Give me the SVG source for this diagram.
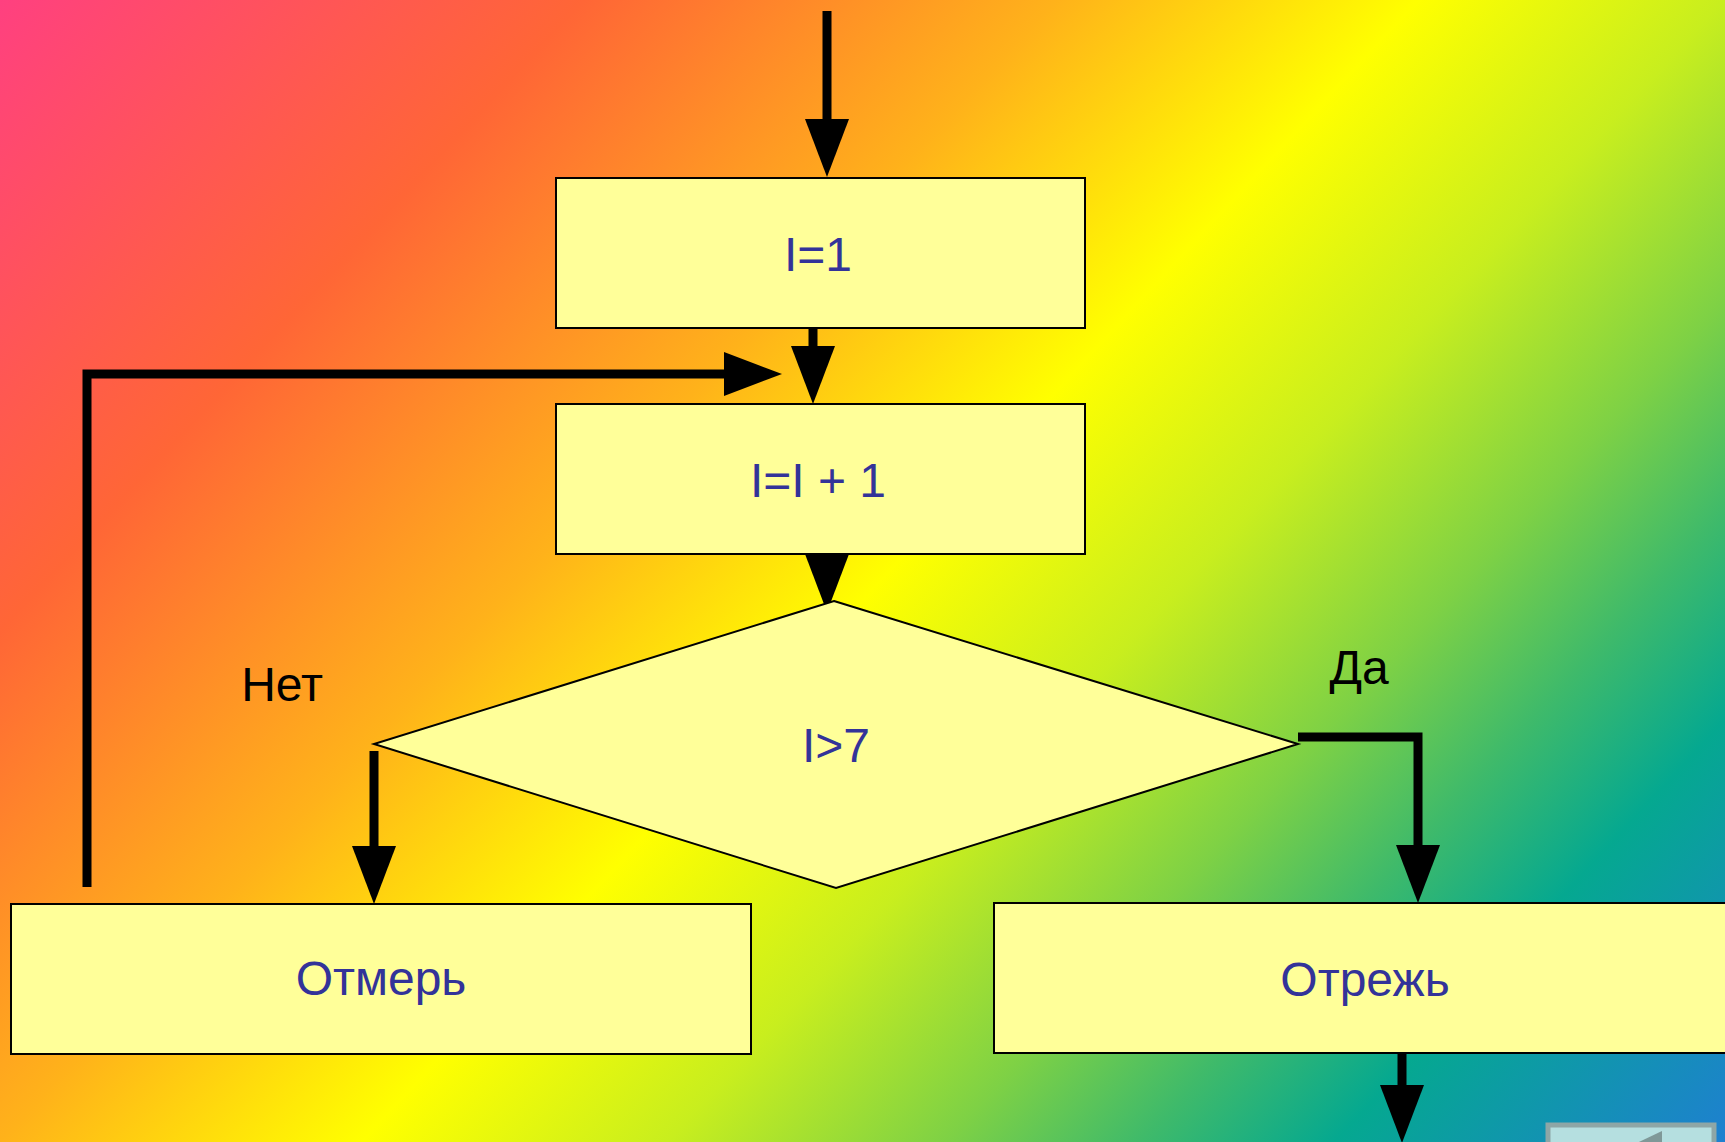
<svg xmlns="http://www.w3.org/2000/svg" width="1725" height="1142" viewBox="0 0 1725 1142">
  <defs>
    <linearGradient id="bg" gradientUnits="userSpaceOnUse" x1="0" y1="0" x2="1498" y2="1386">
      <stop offset="0" stop-color="#ff4080"/>
      <stop offset="0.21" stop-color="#ff6636"/>
      <stop offset="0.38" stop-color="#ffb21a"/>
      <stop offset="0.51" stop-color="#ffff00"/>
      <stop offset="0.62" stop-color="#c8ee1e"/>
      <stop offset="0.72" stop-color="#7ed145"/>
      <stop offset="0.79" stop-color="#3fba6a"/>
      <stop offset="0.86" stop-color="#05a890"/>
      <stop offset="1" stop-color="#1e80d0"/>
    </linearGradient>
    <marker id="arrow" markerUnits="userSpaceOnUse" markerWidth="60" markerHeight="46" refX="0" refY="22" orient="auto" overflow="visible">
      <path d="M0,0 L58,22 L0,44 Z" fill="#000"/>
    </marker>
  </defs>
  <style>
    .box { fill: #ffff99; stroke: #000; stroke-width: 2; }
    .lbl { font-family: "Liberation Sans", Arial, sans-serif; font-size: 48px; fill: #333399; text-anchor: middle; }
    .cond { font-family: "Liberation Sans", Arial, sans-serif; font-size: 48px; fill: #000; text-anchor: middle; }
    .conn { fill: none; stroke: #000; stroke-width: 9; stroke-linejoin: miter; marker-end: url(#arrow); }
  </style>

  <rect x="0" y="0" width="1725" height="1142" fill="url(#bg)"/>

  <g id="connectors">
    <path class="conn" d="M827,11 V119"/>
    <path class="conn" d="M813,328 V346"/>
    <path class="conn" d="M87,887 V374 H724"/>
    <path class="conn" d="M827,548 V554"/>
    <path class="conn" d="M374,751 V846"/>
    <path class="conn" d="M1298,737 H1418 V845"/>
    <path class="conn" d="M1402,1054 V1085"/>
  </g>

  <g id="node-init">
    <rect class="box" x="556" y="178" width="529" height="150"/>
    <text class="lbl" x="818" y="271">I=1</text>
  </g>

  <g id="node-inc">
    <rect class="box" x="556" y="404" width="529" height="150"/>
    <text class="lbl" x="818" y="497">I=I + 1</text>
  </g>

  <g id="node-cond">
    <polygon class="box" points="834,601 1298,744 836,888 374,744"/>
    <text class="lbl" x="836" y="762">I&gt;7</text>
  </g>

  <g id="label-no">
    <text class="cond" x="282" y="701">Нет</text>
  </g>

  <g id="label-yes">
    <text class="cond" x="1359" y="684">Да</text>
  </g>

  <g id="node-measure">
    <rect class="box" x="11" y="904" width="740" height="150"/>
    <text class="lbl" x="381" y="995">Отмерь</text>
  </g>

  <g id="node-cut">
    <rect class="box" x="994" y="903" width="745" height="150"/>
    <text class="lbl" x="1365" y="996">Отрежь</text>
  </g>

  <g id="nav-button">
    <rect x="1548" y="1125" width="166" height="40" fill="#b5dfe0" stroke="#8ea6a6" stroke-width="5"/>
    <polygon points="1662,1131 1662,1171 1620,1151" fill="#7f9898"/>
  </g>
</svg>
